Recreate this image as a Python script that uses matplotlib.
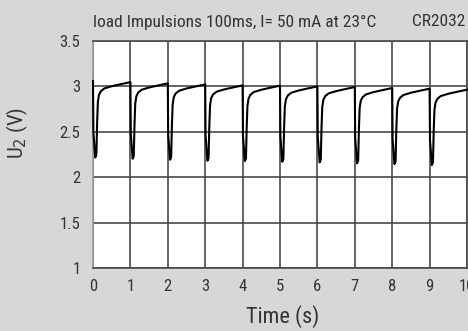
#! /usr/bin/env python3

"""Pulse-load discharge curve of a CR2032 coin cell (U2 vs time)."""

import matplotlib
matplotlib.use("Agg")
import matplotlib.pyplot as plt

# pulse start times (s) and the voltage each cycle recovers to just before the next pulse
pulse_starts = [0, 1, 2, 3, 4, 5, 6, 7, 8, 9]
cycle_end_volts = [3.047, 3.033, 3.022, 3.011, 3.008, 3.000, 2.993, 2.982, 2.975, 2.964]
first_volt = 3.06

# shape of one cycle: time after pulse start (s), voltage below cycle end (V)
shape_dt = [0.01, 0.06, 0.09, 0.11, 0.13, 0.16, 0.21, 0.30, 0.50, 0.75, 1.00]
shape_dv = [-0.55, -0.83, -0.80, -0.45, -0.22, -0.14, -0.10, -0.07, -0.045, -0.022, 0.0]

x_ticks = [0, 1, 2, 3, 4, 5, 6, 7, 8, 9, 10]
y_ticks = [1, 1.5, 2, 2.5, 3, 3.5]
y_tick_labels = ["1", "1.5", "2", "2.5", "3", "3.5"]

BG = "#d6d7d9"
TXT = "#333333"
GRID = "#4a4a4a"
plt.rcParams["font.family"] = ["Roboto Condensed", "DejaVu Sans"]

# build the curve
times = [0.0]
volts = [first_volt]
for start, end_v in zip(pulse_starts, cycle_end_volts):
    for dt, dv in zip(shape_dt, shape_dv):
        times.append(start + dt)
        volts.append(end_v + dv)

fig = plt.figure(figsize=(4.68, 3.31), dpi=100, facecolor=BG)
ax = fig.add_axes([93 / 468, 1 - 268 / 331, 374 / 468, 227 / 331])
ax.set_facecolor("white")

ax.plot(times, volts, color="black", lw=1.5, zorder=3, clip_on=False)

ax.set_xlim(0, 10)
ax.set_ylim(1, 3.5)
ax.set_xticks(x_ticks)
ax.set_yticks(y_ticks)
ax.set_yticklabels(y_tick_labels)
ax.grid(True, color=GRID, lw=1.2)
ax.tick_params(length=0, labelsize=12, labelcolor=TXT)
ax.tick_params(axis="y", pad=9)
ax.tick_params(axis="x", pad=8)
for side in ["left", "top", "right", "bottom"]:
    ax.spines[side].set_color(GRID)
    ax.spines[side].set_linewidth(1.2)
ax.spines["left"].set_color("#999999")

# axis titles placed where the reference has them
fig.text(283 / 468, 1 - 317 / 331, "Time (s)", fontsize=16, color=TXT,
         ha="center", va="center")
fig.text(17 / 468, 1 - 133 / 331, "U$_2$ (V)", fontsize=15, color=TXT,
         ha="center", va="center", rotation=90)

fig.text(93 / 468, 1 - 22 / 331, "load Impulsions 100ms, I= 50 mA at 23\u00b0C",
         fontsize=12.5, color=TXT, va="center", ha="left")
fig.text(465 / 468, 1 - 22 / 331, "CR2032",
         fontsize=12.5, color=TXT, va="center", ha="right")

fig.savefig("out.png", dpi=100, facecolor=BG)
